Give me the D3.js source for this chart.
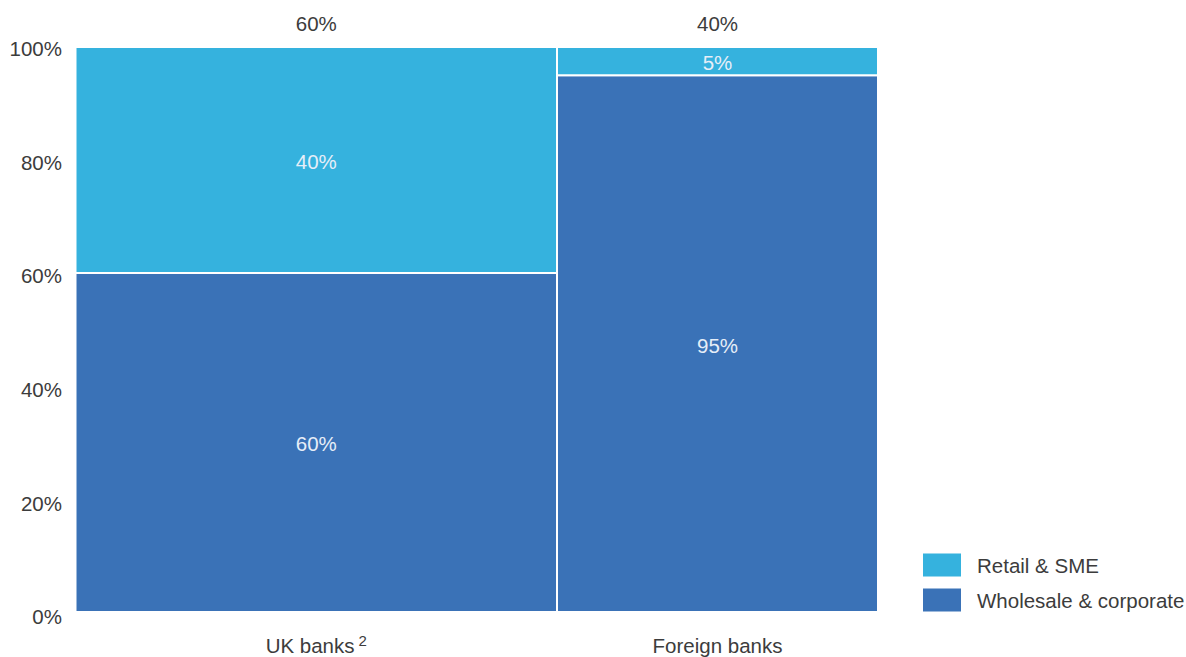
<!DOCTYPE html>
<html lang="en">
<head>
<meta charset="utf-8">
<title>Mosaic</title>
<style>
  body { margin: 0; background: #fff; }
  text { font-family: "Liberation Sans", Arial, sans-serif; }
</style>
</head>
<body>
<div id="chart"></div>
<script src="https://cdn.jsdelivr.net/npm/d3@7"></script>
<script>
var banks = ["UK banks", "Foreign banks"];
var bankShare = [60, 40];
var series = ["Wholesale & corporate", "Retail & SME"];
var wholesale = [60, 95];
var retail = [40, 5];
var yTicks = [0, 20, 40, 60, 80, 100];
var colors = ["#3a72b7", "#35b2de"];

var width = 1186, height = 657;
var plotLeft = 75.5, plotRight = 878, plotTop = 47, plotBottom = 612;
var fs = 20.5;

var svg = d3.select("#chart").append("svg")
    .attr("width", width)
    .attr("height", height);

var x = d3.scaleLinear().domain([0, 100]).range([plotLeft, plotRight]);
var y = d3.scaleLinear().domain([0, 100]).range([plotBottom, plotTop]);
// tick labels sit slightly below their gridline positions in the original
var yLabel = d3.scaleLinear().domain([0, 100]).range([plotBottom + 5, plotTop + 1.5]);

// cumulative column starts
var starts = [0];
for (var i = 1; i < banks.length; i++) starts.push(starts[i - 1] + bankShare[i - 1]);

var cells = [];
banks.forEach(function(b, i) {
  cells.push({ bank: i, s: 0, y0: 0, y1: wholesale[i], v: wholesale[i] });
  cells.push({ bank: i, s: 1, y0: wholesale[i], y1: wholesale[i] + retail[i], v: retail[i] });
});

svg.selectAll(".cell")
  .data(cells)
  .enter().append("rect")
    .attr("class", "cell")
    .attr("x", function(d) { return x(starts[d.bank]); })
    .attr("width", function(d) { return x(starts[d.bank] + bankShare[d.bank]) - x(starts[d.bank]); })
    .attr("y", function(d) { return y(d.y1); })
    .attr("height", function(d) { return y(d.y0) - y(d.y1); })
    .attr("fill", function(d) { return colors[d.s]; })
    .attr("stroke", "#fff")
    .attr("stroke-width", 2);

svg.selectAll(".cell-label")
  .data(cells)
  .enter().append("text")
    .attr("x", function(d) { return x(starts[d.bank] + bankShare[d.bank] / 2); })
    .attr("y", function(d) { return y((d.y0 + d.y1) / 2) + 1.5; })
    .attr("dy", "0.36em")
    .attr("text-anchor", "middle")
    .attr("font-size", fs)
    .attr("fill", "#e6eef8")
    .text(function(d) { return d.v + "%"; });

// column share labels on top
svg.selectAll(".share")
  .data(banks)
  .enter().append("text")
    .attr("x", function(d, i) { return x(starts[i] + bankShare[i] / 2); })
    .attr("y", 24)
    .attr("dy", "0.36em")
    .attr("text-anchor", "middle")
    .attr("font-size", fs)
    .attr("fill", "#3c3c3c")
    .text(function(d, i) { return bankShare[i] + "%"; });

// category labels
var cat = svg.selectAll(".cat")
  .data(banks)
  .enter().append("text")
    .attr("x", function(d, i) { return x(starts[i] + bankShare[i] / 2); })
    .attr("y", 646)
    .attr("dy", "0.36em")
    .attr("text-anchor", "middle")
    .attr("font-size", fs)
    .attr("fill", "#3c3c3c");
cat.append("tspan").text(function(d) { return d; });
cat.filter(function(d, i) { return i === 0; })
  .append("tspan")
    .attr("dx", 4)
    .attr("dy", "-0.5em")
    .attr("font-size", 15)
    .text("2");

// y axis labels
svg.selectAll(".ytick")
  .data(yTicks)
  .enter().append("text")
    .attr("x", 62)
    .attr("y", function(d) { return yLabel(d); })
    .attr("dy", "0.36em")
    .attr("text-anchor", "end")
    .attr("font-size", fs)
    .attr("fill", "#3c3c3c")
    .text(function(d) { return d + "%"; });

// legend
var legend = svg.selectAll(".legend")
  .data(series.slice().reverse())
  .enter().append("g")
    .attr("transform", function(d, i) { return "translate(923," + (553.5 + i * 35) + ")"; });
legend.append("rect")
    .attr("width", 38)
    .attr("height", 23)
    .attr("fill", function(d) { return colors[series.indexOf(d)]; });
legend.append("text")
    .attr("x", 54)
    .attr("y", 12)
    .attr("dy", "0.36em")
    .attr("font-size", fs)
    .attr("fill", "#3c3c3c")
    .text(function(d) { return d; });
</script>
</body>
</html>
